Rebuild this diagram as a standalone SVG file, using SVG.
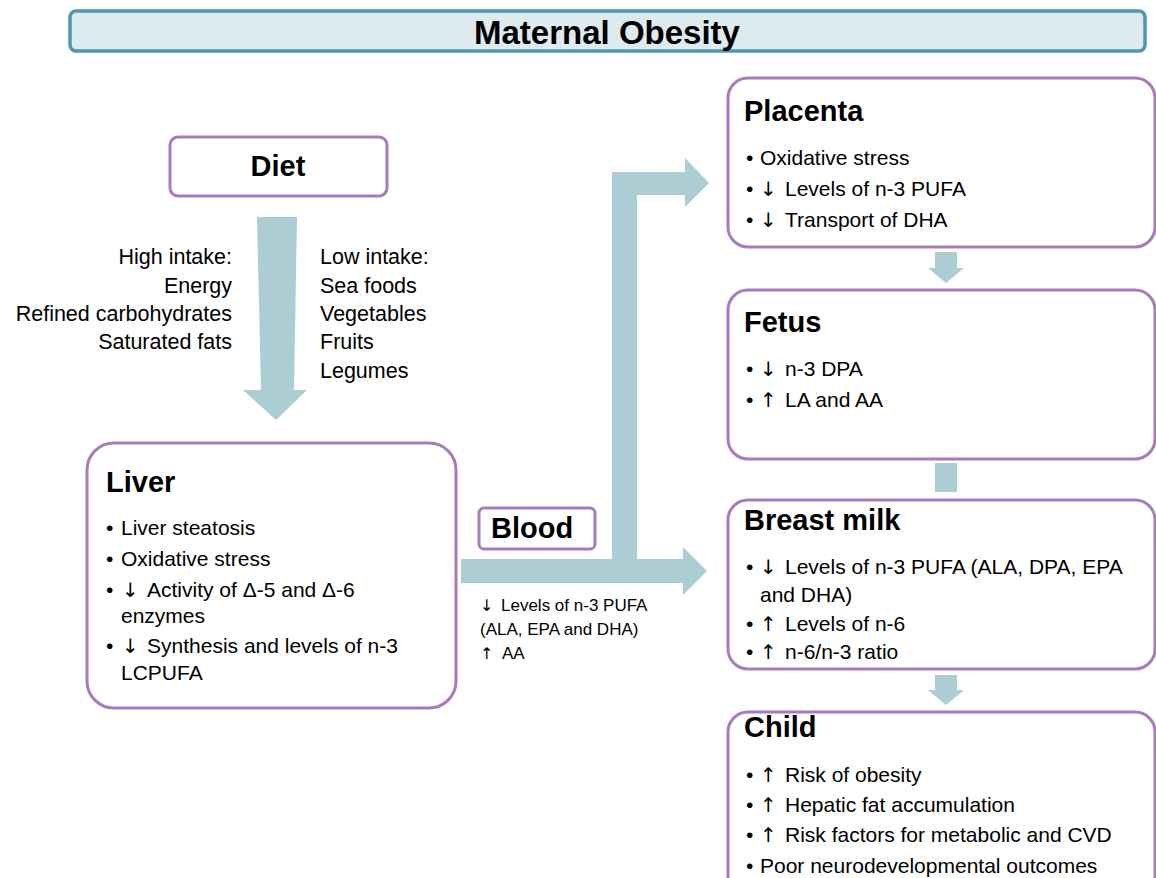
<svg xmlns="http://www.w3.org/2000/svg" width="1156" height="878" viewBox="0 0 1156 878">
<style>
  .box { fill: #ffffff; stroke: #A87BBA; stroke-width: 3; }
  .arrow { fill: #ACCDD4; stroke: none; }
  .hdr { font-family: "Liberation Sans", Arial, sans-serif; font-weight: bold; font-size: 29px; fill: #000; }
  .body { font-family: "Liberation Sans", Arial, sans-serif; font-size: 21px; fill: #000; }
  .side { font-family: "Liberation Sans", Arial, sans-serif; font-size: 21.5px; fill: #000; }
  .small { font-family: "Liberation Sans", Arial, sans-serif; font-size: 17px; fill: #000; }
  .arr { font-family: "DejaVu Sans", sans-serif; font-size: 20px; fill: #000; }
  .arrs { font-family: "DejaVu Sans", sans-serif; font-size: 16px; fill: #000; }
</style>
<rect x="0" y="0" width="1156" height="878" fill="#ffffff"/>

<g id="title">
  <rect x="70" y="11" width="1075" height="40" rx="6" ry="6" fill="#DDEBF1" stroke="#4D98AE" stroke-width="3.5"/>
  <text x="607" y="44" text-anchor="middle" font-family="Liberation Sans, Arial, sans-serif" font-weight="bold" font-size="33px" fill="#000">Maternal Obesity</text>
</g>

<g id="connectors">
  <polygon class="arrow" points="257,217 297,217 294,390 307,390 276,420 243,390 261,390"/>
  <polygon class="arrow" points="461,559 612,559 612,172 685,172 685,158 709,183 685,207 685,195 637,195 637,559 683,559 683,547 707,571 683,595 683,583 461,583"/>
  <polygon class="arrow" points="935,252 957,252 957,268 964,268 946,283 928,268 935,268"/>
  <rect class="arrow" x="935" y="463" width="22" height="29"/>
  <polygon class="arrow" points="935,675 957,675 957,690 964,690 946,705 928,690 935,690"/>
</g>

<g id="diet">
  <rect class="box" x="170" y="137" width="217" height="59" rx="8" ry="8"/>
  <text class="hdr" x="278" y="176" text-anchor="middle" font-size="30px">Diet</text>
</g>

<g id="diet-labels">
  <text class="side" x="232" y="264" text-anchor="end">High intake:</text>
  <text class="side" x="232" y="293" text-anchor="end">Energy</text>
  <text class="side" x="232" y="321" text-anchor="end">Refined carbohydrates</text>
  <text class="side" x="232" y="349" text-anchor="end">Saturated fats</text>
  <text class="side" x="320" y="264">Low intake:</text>
  <text class="side" x="320" y="293">Sea foods</text>
  <text class="side" x="320" y="321">Vegetables</text>
  <text class="side" x="320" y="349">Fruits</text>
  <text class="side" x="320" y="378">Legumes</text>
</g>

<g id="liver">
  <rect class="box" x="87" y="443" width="369" height="265" rx="27" ry="27"/>
  <text class="hdr" x="106" y="492">Liver</text>
  <text class="body" x="106" y="535">•</text><text class="body" x="121" y="535">Liver steatosis</text>
  <text class="body" x="106" y="566">•</text><text class="body" x="121" y="566">Oxidative stress</text>
  <text class="body" x="106" y="597">•</text><text class="arr" x="122" y="597">↓</text><text class="body" x="147" y="597">Activity of Δ-5 and Δ-6</text>
  <text class="body" x="121" y="623">enzymes</text>
  <text class="body" x="106" y="653">•</text><text class="arr" x="122" y="653">↓</text><text class="body" x="147" y="653">Synthesis and levels of n-3</text>
  <text class="body" x="121" y="680">LCPUFA</text>
</g>

<g id="blood">
  <rect class="box" x="479" y="508" width="116" height="41" rx="5" ry="5"/>
  <text class="hdr" x="491" y="538">Blood</text>
</g>

<g id="blood-labels">
  <text class="arrs" x="480" y="611">↓</text><text class="small" x="501" y="611">Levels of n-3 PUFA</text>
  <text class="small" x="480" y="635">(ALA, EPA and DHA)</text>
  <text class="arrs" x="480" y="659">↑</text><text class="small" x="502" y="659">AA</text>
</g>

<g id="placenta">
  <rect class="box" x="728" y="78" width="427" height="169" rx="20" ry="20"/>
  <text class="hdr" x="744" y="121">Placenta</text>
  <text class="body" x="746" y="165">•</text><text class="body" x="760" y="165">Oxidative stress</text>
  <text class="body" x="746" y="196">•</text><text class="arr" x="760" y="196">↓</text><text class="body" x="785" y="196">Levels of n-3 PUFA</text>
  <text class="body" x="746" y="227">•</text><text class="arr" x="760" y="227">↓</text><text class="body" x="785" y="227">Transport of DHA</text>
</g>

<g id="fetus">
  <rect class="box" x="728" y="290" width="427" height="169" rx="20" ry="20"/>
  <text class="hdr" x="744" y="332">Fetus</text>
  <text class="body" x="746" y="376">•</text><text class="arr" x="760" y="376">↓</text><text class="body" x="785" y="376">n-3 DPA</text>
  <text class="body" x="746" y="407">•</text><text class="arr" x="760" y="407">↑</text><text class="body" x="785" y="407">LA and AA</text>
</g>

<g id="breast-milk">
  <rect class="box" x="728" y="500" width="427" height="169" rx="20" ry="20"/>
  <text class="hdr" x="744" y="530">Breast milk</text>
  <text class="body" x="746" y="574">•</text><text class="arr" x="760" y="574">↓</text><text class="body" x="785" y="574">Levels of n-3 PUFA (ALA, DPA, EPA</text>
  <text class="body" x="760" y="602">and DHA)</text>
  <text class="body" x="746" y="631">•</text><text class="arr" x="760" y="631">↑</text><text class="body" x="785" y="631">Levels of n-6</text>
  <text class="body" x="746" y="659">•</text><text class="arr" x="760" y="659">↑</text><text class="body" x="785" y="659">n-6/n-3 ratio</text>
</g>

<g id="child">
  <rect class="box" x="728" y="712" width="427" height="200" rx="20" ry="20"/>
  <text class="hdr" x="744" y="737">Child</text>
  <text class="body" x="746" y="782">•</text><text class="arr" x="760" y="782">↑</text><text class="body" x="785" y="782">Risk of obesity</text>
  <text class="body" x="746" y="812">•</text><text class="arr" x="760" y="812">↑</text><text class="body" x="785" y="812">Hepatic fat accumulation</text>
  <text class="body" x="746" y="842">•</text><text class="arr" x="760" y="842">↑</text><text class="body" x="785" y="842">Risk factors for metabolic and CVD</text>
  <text class="body" x="746" y="873">•</text><text class="body" x="760" y="873">Poor neurodevelopmental outcomes</text>
</g>
</svg>
